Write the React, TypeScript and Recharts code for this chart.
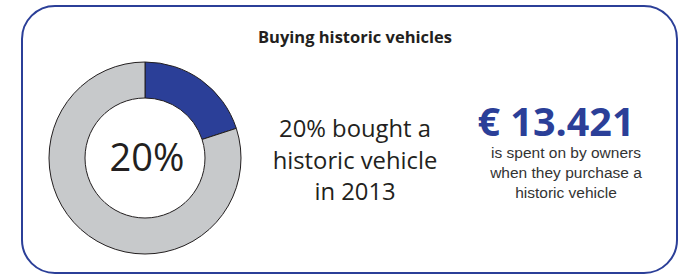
import { PieChart, Pie, Cell } from 'recharts';

const segments = ['Bought a historic vehicle', 'Did not'];
const shares = [20, 80];
const segmentColors = ['#2b3f98', '#c7c9cb'];

const title = 'Buying historic vehicles';
const centerLabel = '20%';
const middleLines = ['20% bought a', 'historic vehicle', 'in 2013'];
const amount = '€ 13.421';
const amountLines = ['is spent on by owners', 'when they purchase a', 'historic vehicle'];

const pieData = segments.map((name, i) => ({ name, value: shares[i] }));

export default function App() {
    return (
        <div style={{ position: 'fixed', left: 0, top: 0, width: 686, height: 274, background: '#fff', overflow: 'hidden' }}>
            {/* rounded frame */}
            <div
                style={{
                    position: 'absolute',
                    left: 21,
                    top: 5,
                    width: 653,
                    height: 265,
                    border: '2px solid #2b3f98',
                    borderRadius: 34,
                }}
            />
            <div style={{ position: 'absolute', left: 0, top: 0 }}>
                <PieChart width={686} height={274} margin={{ top: 0, right: 0, bottom: 0, left: 0 }}>
                    <Pie
                        data={pieData}
                        dataKey="value"
                        cx={145}
                        cy={158}
                        innerRadius={60}
                        outerRadius={96}
                        startAngle={90}
                        endAngle={-270}
                        stroke="#231f20"
                        strokeWidth={1}
                        isAnimationActive={false}
                    >
                        {pieData.map((d, i) => (
                            <Cell key={d.name} fill={segmentColors[i]} />
                        ))}
                    </Pie>
                </PieChart>
            </div>
            <svg width={686} height={274} style={{ position: 'absolute', left: 0, top: 0 }}>
                <text x={355} y={43} textAnchor="middle" fontFamily="'Open Sans'" fontWeight={700} fontSize={16.5} fill="#231f20">
                    {title}
                </text>
                <text x={147} y={171} textAnchor="middle" fontFamily="'Open Sans'" fontSize={38} fill="#231f20">
                    {centerLabel}
                </text>
                {middleLines.map((line, i) => (
                    <text key={line} x={355} y={137 + i * 31.5} textAnchor="middle" fontFamily="'Open Sans'" fontSize={23.8} fill="#231f20">
                        {line}
                    </text>
                ))}
                <text x={556} y={136} textAnchor="middle" fontFamily="'Open Sans'" fontWeight={700} fontSize={39.5} fill="#2b3f98">
                    {amount}
                </text>
                {amountLines.map((line, i) => (
                    <text key={line} x={566} y={158 + i * 20} textAnchor="middle" fontFamily="'Liberation Sans', Arial" fontSize={15.5} fill="#333">
                        {line}
                    </text>
                ))}
            </svg>
        </div>
    );
}
